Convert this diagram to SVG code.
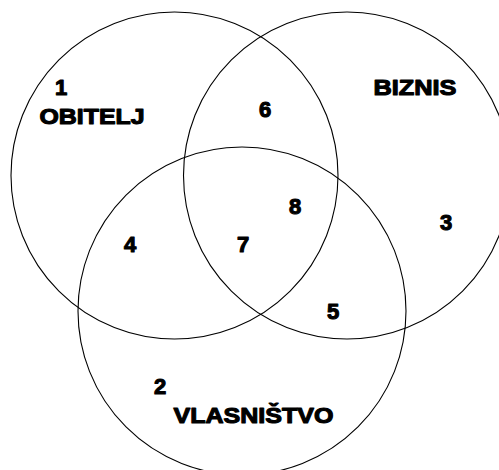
<svg xmlns="http://www.w3.org/2000/svg" width="499" height="470" viewBox="0 0 499 470">
<style>
.c{fill:none;stroke:#000;stroke-width:1.1}
.t{font-family:"Liberation Sans",Arial,sans-serif;font-weight:bold;font-size:22px;fill:#000;stroke:#000;stroke-width:1.1;stroke-linejoin:round}
.n{text-anchor:middle}
</style>
<rect width="499" height="470" fill="#fff"/>
<g id="obitelj">
<circle class="c" cx="174.5" cy="175.5" r="163.5"/>
<text class="t n" x="61" y="95">1</text>
<text class="t" x="39.5" y="124" textLength="105" lengthAdjust="spacingAndGlyphs">OBITELJ</text>
</g>
<g id="biznis">
<circle class="c" cx="347" cy="175.5" r="163.5"/>
<text class="t" x="373.5" y="95" textLength="83" lengthAdjust="spacingAndGlyphs">BIZNIS</text>
<text class="t n" x="446" y="230">3</text>
</g>
<g id="vlasnistvo">
<circle class="c" cx="242" cy="311" r="164"/>
<text class="t n" x="160" y="394">2</text>
<text class="t" x="173.5" y="423" textLength="160" lengthAdjust="spacingAndGlyphs">VLASNIŠTVO</text>
</g>
<g id="regions">
<text class="t n" x="130" y="252">4</text>
<text class="t n" x="333" y="319">5</text>
<text class="t n" x="265" y="117">6</text>
<text class="t n" x="243" y="252">7</text>
<text class="t n" x="295" y="214">8</text>
</g>
</svg>
